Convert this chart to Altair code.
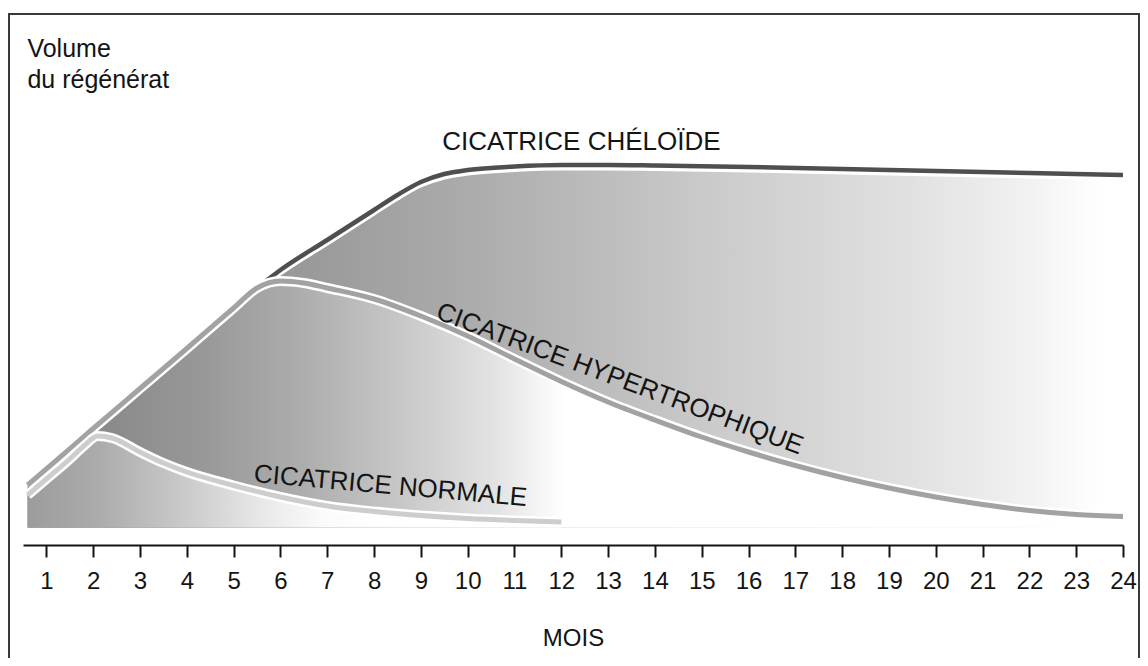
import altair as alt
import pandas as pd

# ---------------- data ----------------
keloid_months = [0.6, 1, 2, 3, 4, 5, 5.5, 6, 7, 8, 8.5, 9, 9.5, 10, 11, 12, 13, 14, 16, 18, 20, 22, 24]
keloid_volume = [12.0, 15.2, 23.3, 31.3, 39.3, 47.4, 51.4, 55.0, 61.0, 67.0, 70.0, 72.6, 74.2, 75.0, 75.7, 76.0, 76.0, 75.9, 75.6, 75.2, 74.8, 74.4, 74.0]

hyper_months = [0.6, 1, 2, 3, 4, 5, 5.5, 6, 6.5, 7, 8, 9, 10, 11, 12, 13, 14, 15, 16, 17, 18, 19, 20, 21, 22, 23, 24]
hyper_volume = [12.0, 15.2, 23.3, 31.3, 39.3, 47.4, 51.4, 52.8, 52.4, 51.4, 49.2, 45.8, 41.8, 37.2, 32.7, 28.6, 25.0, 21.6, 18.6, 15.9, 13.5, 11.4, 9.6, 8.1, 6.9, 6.1, 5.7]

normal_months = [0.6, 1, 1.5, 1.8, 2.1, 2.4, 3, 3.5, 4, 5, 6, 7, 8, 9, 10, 11, 12]
normal_volume = [10.0, 13.2, 17.2, 19.8, 21.8, 21.4, 18.6, 16.4, 14.6, 11.9, 9.6, 7.8, 6.7, 5.9, 5.3, 4.9, 4.6]

baseline_volume = 3.5

month_ticks = list(range(1, 25))

label_texts = ["CICATRICE CHÉLOÏDE", "CICATRICE HYPERTROPHIQUE", "CICATRICE NORMALE"]
label_months = [12.43, 13.25, 8.35]
label_volumes = [80.7, 33.2, 11.8]
label_angles = [0, 20.5, 5]

ytitle_lines = ["Volume", "du régénérat"]
ytitle_months = [0.594, 0.594]
ytitle_volumes = [97.6, 91.4]

x_title = "MOIS"

# ---------------- chart ----------------
FONT = "Liberation Sans"
INK = "#141414"

xscale = alt.Scale(domain=[0.5, 24], nice=False, zero=False)
yscale = alt.Scale(domain=[0, 100], nice=False, zero=False)

x_axis = alt.Axis(
    values=month_ticks,
    tickSize=12,
    tickWidth=2,
    tickColor=INK,
    domainColor=INK,
    domainWidth=2,
    labelFontSize=24,
    labelFont=FONT,
    labelColor=INK,
    labelPadding=12,
    labelFlush=False,
    grid=False,
    title=x_title,
    titleFont=FONT,
    titleFontSize=24,
    titleFontWeight="normal",
    titleColor=INK,
    titlePadding=33,
)


def frame(months, volumes):
    df = pd.DataFrame({"m": months, "v": volumes})
    df["base"] = baseline_volume
    return df


def grad(stops):
    return alt.Gradient(
        gradient="linear",
        x1=0, x2=1, y1=0, y2=0,
        stops=[alt.GradientStop(color=c, offset=o) for o, c in stops],
    )


X = alt.X("m:Q", scale=xscale, axis=x_axis)
Y = alt.Y("v:Q", scale=yscale, axis=None)

df_k = frame(keloid_months, keloid_volume)
df_h = frame(hyper_months, hyper_volume)
df_n = frame(normal_months, normal_volume)

border = alt.Chart(alt.Data(values=[{"a": 1}])).mark_rect(
    filled=False, stroke="#3a3a3a", strokeWidth=2
).encode(
    x=alt.value(-14), x2=alt.value(1116), y=alt.value(-31), y2=alt.value(640)
)

area_k = alt.Chart(df_k).mark_area(
    interpolate="monotone",
    color=grad([(0, "#7e7e7e"), (0.25, "#999999"), (0.4, "#ababab"), (0.62, "#cacaca"),
                (0.8, "#e0e0e0"), (0.9, "#efefef"), (0.98, "#ffffff"), (1, "#ffffff")]),
).encode(x=X, y=Y, y2="base:Q")

line_k_white = alt.Chart(df_k).mark_line(
    interpolate="monotone", color="white", strokeWidth=4, yOffset=3.5
).encode(x=X, y=Y)
line_k = alt.Chart(df_k).mark_line(
    interpolate="monotone", color="#4f4f4f", strokeWidth=4.5
).encode(x=X, y=Y)

area_h = alt.Chart(df_h).mark_area(
    interpolate="monotone",
    color=grad([(0, "#8e8e8e"), (0.07, "#8a8a8a"), (0.16, "#989898"), (0.25, "#adadad"),
                (0.34, "#c7c7c7"), (0.43, "#e4e4e4"), (0.49, "#ffffff"), (1, "#ffffff")]),
).encode(x=X, y=Y, y2="base:Q")

line_h_white = alt.Chart(df_h).mark_line(
    interpolate="monotone", color="white", strokeWidth=10
).encode(x=X, y=Y)
line_h = alt.Chart(df_h).mark_line(
    interpolate="monotone", color="#a2a2a2", strokeWidth=5
).encode(x=X, y=Y)

area_n = alt.Chart(df_n).mark_area(
    interpolate="monotone",
    color=grad([(0, "#9c9c9c"), (0.13, "#ababab"), (0.32, "#cfcfcf"), (0.44, "#e8e8e8"),
                (0.55, "#fafafa"), (0.65, "#ffffff"), (1, "#ffffff")]),
).encode(x=X, y=Y, y2="base:Q")

line_n_white = alt.Chart(df_n).mark_line(
    interpolate="monotone", color="white", strokeWidth=10
).encode(x=X, y=Y)
line_n = alt.Chart(df_n).mark_line(
    interpolate="monotone", color="#cdcdcd", strokeWidth=5
).encode(x=X, y=Y)

labels_df = pd.DataFrame({"t": label_texts, "m": label_months, "v": label_volumes, "a": label_angles})
curve_labels = alt.Chart(labels_df).mark_text(
    font=FONT, fontSize=26, color=INK, align="center", baseline="middle"
).encode(x=X, y=Y, text="t:N", angle=alt.Angle("a:Q", scale=None))

ytitle_df = pd.DataFrame({"t": ytitle_lines, "m": ytitle_months, "v": ytitle_volumes})
ytitle = alt.Chart(ytitle_df).mark_text(
    font=FONT, fontSize=25, color=INK, align="left", baseline="alphabetic"
).encode(x=X, y=Y, text="t:N")

chart = alt.layer(
    border,
    area_k, line_k_white, line_k,
    area_h, line_h_white, line_h,
    area_n, line_n_white, line_n,
    curve_labels, ytitle,
).properties(
    width=1100,
    height=500,
    autosize=alt.AutoSizeParams(type="none"),
    padding={"left": 15, "right": 17, "top": 37, "bottom": 113},
    background="white",
).configure_view(stroke=None)

chart.save("out.html", embed_options={"renderer": "svg", "actions": False})
